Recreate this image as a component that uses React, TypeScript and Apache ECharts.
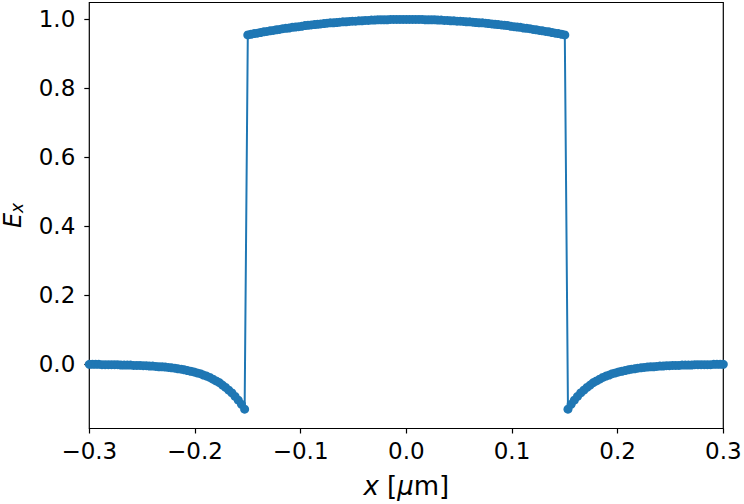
import React, { useEffect, useRef } from 'react';
import * as echarts from 'echarts';

// sample positions along x [µm]
const xs = [
  -0.300, -0.297, -0.294, -0.291, -0.288, -0.285, -0.282, -0.279, -0.276, -0.273,
  -0.270, -0.267, -0.264, -0.261, -0.258, -0.255, -0.252, -0.249, -0.246, -0.243,
  -0.240, -0.237, -0.234, -0.231, -0.228, -0.225, -0.222, -0.219, -0.216, -0.213,
  -0.210, -0.207, -0.204, -0.201, -0.198, -0.195, -0.192, -0.189, -0.186, -0.183,
  -0.180, -0.177, -0.174, -0.171, -0.168, -0.165, -0.162, -0.159, -0.156, -0.153,
  -0.150, -0.147, -0.144, -0.141, -0.138, -0.135, -0.132, -0.129, -0.126, -0.123,
  -0.120, -0.117, -0.114, -0.111, -0.108, -0.105, -0.102, -0.099, -0.096, -0.093,
  -0.090, -0.087, -0.084, -0.081, -0.078, -0.075, -0.072, -0.069, -0.066, -0.063,
  -0.060, -0.057, -0.054, -0.051, -0.048, -0.045, -0.042, -0.039, -0.036, -0.033,
  -0.030, -0.027, -0.024, -0.021, -0.018, -0.015, -0.012, -0.009, -0.006, -0.003,
  0.000,
  0.003, 0.006, 0.009, 0.012, 0.015, 0.018, 0.021, 0.024, 0.027, 0.030,
  0.033, 0.036, 0.039, 0.042, 0.045, 0.048, 0.051, 0.054, 0.057, 0.060,
  0.063, 0.066, 0.069, 0.072, 0.075, 0.078, 0.081, 0.084, 0.087, 0.090,
  0.093, 0.096, 0.099, 0.102, 0.105, 0.108, 0.111, 0.114, 0.117, 0.120,
  0.123, 0.126, 0.129, 0.132, 0.135, 0.138, 0.141, 0.144, 0.147, 0.150,
  0.153, 0.156, 0.159, 0.162, 0.165, 0.168, 0.171, 0.174, 0.177, 0.180,
  0.183, 0.186, 0.189, 0.192, 0.195, 0.198, 0.201, 0.204, 0.207, 0.210,
  0.213, 0.216, 0.219, 0.222, 0.225, 0.228, 0.231, 0.234, 0.237, 0.240,
  0.243, 0.246, 0.249, 0.252, 0.255, 0.258, 0.261, 0.264, 0.267, 0.270,
  0.273, 0.276, 0.279, 0.282, 0.285, 0.288, 0.291, 0.294, 0.297, 0.300,
];

// field E_x at each sample
const ex = [
  0.000, 0.000, 0.000, 0.000, -0.001, -0.001, -0.001, -0.001, -0.001, -0.001,
  -0.002, -0.002, -0.002, -0.002, -0.003, -0.003, -0.003, -0.004, -0.004, -0.005,
  -0.005, -0.006, -0.007, -0.007, -0.008, -0.009, -0.010, -0.011, -0.013, -0.014,
  -0.016, -0.018, -0.020, -0.022, -0.025, -0.027, -0.031, -0.034, -0.038, -0.043,
  -0.048, -0.053, -0.060, -0.067, -0.075, -0.083, -0.093, -0.104, -0.116, -0.130,
  0.955, 0.957, 0.959, 0.960, 0.962, 0.964, 0.965, 0.967, 0.968, 0.970,
  0.971, 0.973, 0.974, 0.975, 0.977, 0.978, 0.979, 0.980, 0.982, 0.983,
  0.984, 0.985, 0.986, 0.987, 0.988, 0.989, 0.990, 0.990, 0.991, 0.992,
  0.993, 0.993, 0.994, 0.995, 0.995, 0.996, 0.996, 0.997, 0.997, 0.998,
  0.998, 0.999, 0.999, 0.999, 0.999, 1.000, 1.000, 1.000, 1.000, 1.000,
  1.000,
  1.000, 1.000, 1.000, 1.000, 1.000, 0.999, 0.999, 0.999, 0.999, 0.998,
  0.998, 0.997, 0.997, 0.996, 0.996, 0.995, 0.995, 0.994, 0.993, 0.993,
  0.992, 0.991, 0.990, 0.990, 0.989, 0.988, 0.987, 0.986, 0.985, 0.984,
  0.983, 0.982, 0.980, 0.979, 0.978, 0.977, 0.975, 0.974, 0.973, 0.971,
  0.970, 0.968, 0.967, 0.965, 0.964, 0.962, 0.960, 0.959, 0.957, 0.955,
  -0.130, -0.116, -0.104, -0.093, -0.083, -0.075, -0.067, -0.060, -0.053, -0.048,
  -0.043, -0.038, -0.034, -0.031, -0.027, -0.025, -0.022, -0.020, -0.018, -0.016,
  -0.014, -0.013, -0.011, -0.010, -0.009, -0.008, -0.007, -0.007, -0.006, -0.005,
  -0.005, -0.004, -0.004, -0.003, -0.003, -0.003, -0.002, -0.002, -0.002, -0.002,
  -0.001, -0.001, -0.001, -0.001, -0.001, -0.001, 0.000, 0.000, 0.000, 0.000,
];

const yTicks = [0, 0.2, 0.4, 0.6, 0.8, 1.0];

const FONT = 'DejaVu Sans';

const fmt = (v: number) => {
  const s = (Math.abs(v) < 1e-9 ? 0 : v).toFixed(1);
  return s.replace('-', '\u2212');
};

export default function App() {
  const chartRef = useRef<HTMLDivElement>(null);

  useEffect(() => {
    if (!chartRef.current) return;
    const chart = echarts.init(chartRef.current, null, { renderer: 'svg' });

    const option = {
      animation: false,
      grid: {
        left: 89.3,
        right: 20.7,
        top: 2.5,
        bottom: 75.5,
        containLabel: false,
        outerBoundsMode: 'none',
        show: true,
        borderColor: '#000',
        borderWidth: 1.2,
        backgroundColor: 'transparent',
      },
      xAxis: {
        type: 'value',
        min: -0.3,
        max: 0.3,
        interval: 0.1,
        axisLine: { show: false, onZero: false },
        axisTick: { show: true, inside: false, length: 5, lineStyle: { color: '#000', width: 1.2 } },
        splitLine: { show: false },
        axisLabel: {
          color: '#000',
          fontFamily: FONT,
          fontSize: 23,
          margin: 11,
          formatter: fmt,
        },
        name: '{i|x} [{i|\u03bc}m]',
        nameLocation: 'middle',
        nameGap: 57,
        nameTextStyle: {
          color: '#000',
          fontFamily: FONT,
          fontSize: 26,
          verticalAlign: 'middle',
          rich: {
            i: { fontFamily: FONT, fontSize: 26, fontStyle: 'italic', color: '#000' },
          },
        },
      },
      yAxis: {
        type: 'value',
        min: -0.186,
        max: 1.049,
        axisLine: { show: false, onZero: false },
        axisTick: {
          show: true,
          length: 5,
          customValues: yTicks,
          lineStyle: { color: '#000', width: 1.2 },
        },
        splitLine: { show: false },
        axisLabel: {
          color: '#000',
          fontFamily: FONT,
          fontSize: 23,
          margin: 14,
          customValues: yTicks,
          formatter: fmt,
        },
        name: '{e|E}{s|x}',
        nameLocation: 'middle',
        nameRotate: 90,
        nameGap: 76,
        nameTextStyle: {
          color: '#000',
          fontFamily: FONT,
          fontSize: 24,
          verticalAlign: 'middle',
          rich: {
            e: { fontFamily: FONT, fontSize: 24, fontStyle: 'italic', color: '#000' },
            s: {
              fontFamily: FONT,
              fontSize: 17,
              fontStyle: 'italic',
              color: '#000',
              verticalAlign: 'bottom',
              padding: [7, 0, 0, 0],
            },
          },
        },
      },
      series: [
        {
          type: 'line',
          data: xs.map((x, i) => [x, ex[i]]),
          color: '#1f77b4',
          symbol: 'circle',
          symbolSize: 9,
          showSymbol: true,
          showAllSymbol: true,
          lineStyle: { width: 2, color: '#1f77b4' },
          itemStyle: { color: '#1f77b4' },
          clip: true,
        },
      ],
    };

    chart.setOption(option);
    return () => chart.dispose();
  }, []);

  return (
    <div
      ref={chartRef}
      style={{ position: 'absolute', left: 0, top: 0, width: 744, height: 504 }}
    />
  );
}
